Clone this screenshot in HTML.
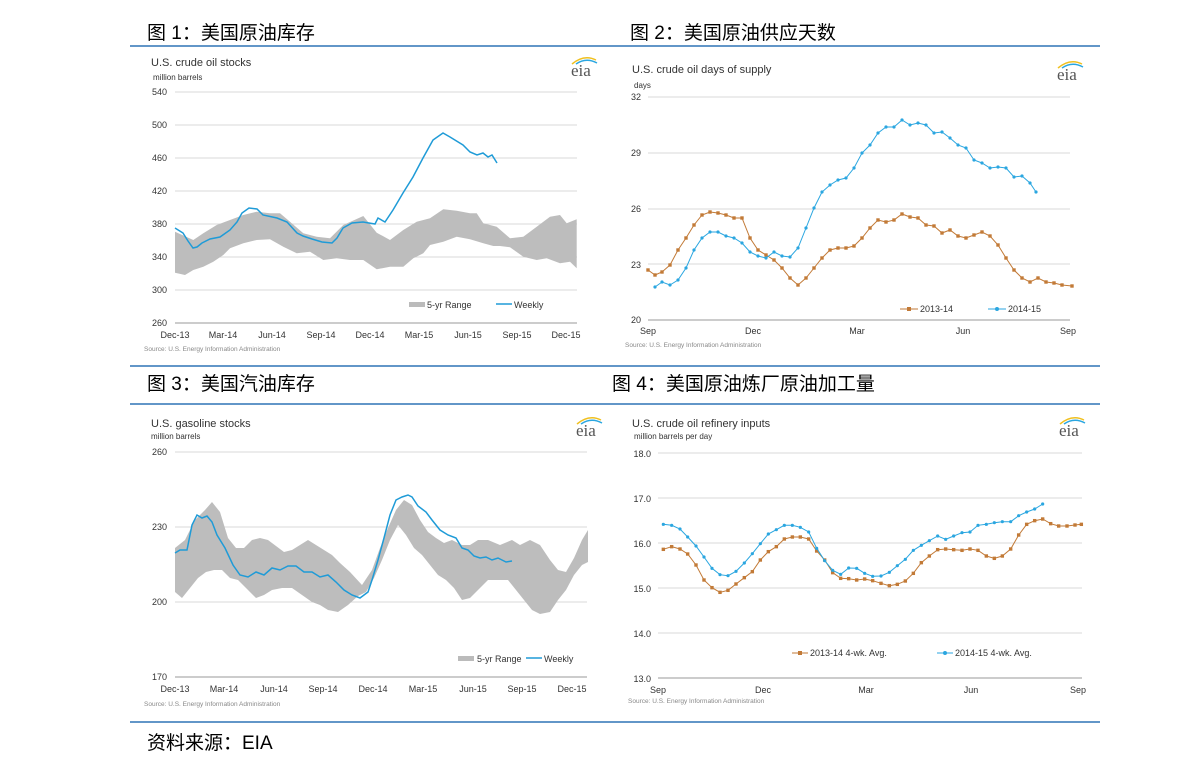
<!DOCTYPE html>
<html><head><meta charset="utf-8"><style>
body{margin:0;background:#fff;width:1191px;height:770px;overflow:hidden}
svg{display:block}
.t{font-family:"Liberation Sans",sans-serif;fill:#333}
.cn{font-family:"Liberation Sans","Noto Sans CJK SC",sans-serif;font-size:19px;fill:#000}
.ax{font-family:"Liberation Sans",sans-serif;font-size:9px;fill:#333}
.src{font-family:"Liberation Sans",sans-serif;font-size:6.5px;fill:#888}
.g{stroke:#d8d8d8;stroke-width:1}
.eia{font-family:"Liberation Serif",serif;font-size:17px;fill:#555}
</style></head><body>
<svg id="s" width="1191" height="770" xmlns="http://www.w3.org/2000/svg">
<text class="cn" x="147" y="39">图 1：美国原油库存</text>
<text class="cn" x="630" y="39">图 2：美国原油供应天数</text>
<line x1="130" y1="46" x2="1100" y2="46" stroke="#2e74b5" stroke-width="1.5"/>
<line x1="130" y1="366" x2="1100" y2="366" stroke="#2e74b5" stroke-width="1.5"/>
<text class="cn" x="147" y="390">图 3：美国汽油库存</text>
<text class="cn" x="612" y="390">图 4：美国原油炼厂原油加工量</text>
<line x1="130" y1="404" x2="1100" y2="404" stroke="#2e74b5" stroke-width="1.5"/>
<line x1="130" y1="722" x2="1100" y2="722" stroke="#2e74b5" stroke-width="1.5"/>
<text class="cn" x="147" y="749">资料来源：EIA</text>

<!-- chart 1 -->
<text class="t" x="151" y="66" font-size="11">U.S. crude oil stocks</text>
<text class="t" x="153" y="80" font-size="8">million barrels</text>
<g class="ax" text-anchor="end">
<text x="167" y="95">540</text><text x="167" y="128">500</text><text x="167" y="161">460</text><text x="167" y="194">420</text><text x="167" y="227">380</text><text x="167" y="260">340</text><text x="167" y="293">300</text><text x="167" y="326">260</text></g>
<g class="g"><line x1="175" y1="92" x2="577" y2="92"/><line x1="175" y1="125" x2="577" y2="125"/><line x1="175" y1="158" x2="577" y2="158"/><line x1="175" y1="191" x2="577" y2="191"/><line x1="175" y1="224" x2="577" y2="224"/><line x1="175" y1="257" x2="577" y2="257"/><line x1="175" y1="290" x2="577" y2="290"/></g>
<line x1="175" y1="323" x2="577" y2="323" stroke="#999"/>
<g class="ax" text-anchor="middle">
<text x="175" y="338">Dec-13</text><text x="223" y="338">Mar-14</text><text x="272" y="338">Jun-14</text><text x="321" y="338">Sep-14</text><text x="370" y="338">Dec-14</text><text x="419" y="338">Mar-15</text><text x="468" y="338">Jun-15</text><text x="517" y="338">Sep-15</text><text x="566" y="338">Dec-15</text></g>
<text class="src" x="144" y="351">Source: U.S. Energy Information Administration</text>
<rect x="409" y="302" width="16" height="5" fill="#bbb"/><text class="ax" x="427" y="308" font-size="8">5-yr Range</text>
<line x1="496" y1="304" x2="512" y2="304" stroke="#1f9bd7" stroke-width="1.5"/><text class="ax" x="514" y="308" font-size="8">Weekly</text>
<g id="c1"></g>

<!-- chart 2 -->
<text class="t" x="632" y="73" font-size="11">U.S. crude oil days of supply</text>
<text class="t" x="634" y="88" font-size="8">days</text>
<g class="ax" text-anchor="end"><text x="641" y="100">32</text><text x="641" y="156">29</text><text x="641" y="212">26</text><text x="641" y="268">23</text><text x="641" y="323">20</text></g>
<g class="g"><line x1="648" y1="97" x2="1070" y2="97"/><line x1="648" y1="153" x2="1070" y2="153"/><line x1="648" y1="209" x2="1070" y2="209"/><line x1="648" y1="264" x2="1070" y2="264"/></g>
<line x1="648" y1="320" x2="1070" y2="320" stroke="#999"/>
<g class="ax" text-anchor="middle"><text x="648" y="334">Sep</text><text x="753" y="334">Dec</text><text x="857" y="334">Mar</text><text x="963" y="334">Jun</text><text x="1068" y="334">Sep</text></g>
<text class="src" x="625" y="347">Source: U.S. Energy Information Administration</text>
<line x1="900" y1="309" x2="918" y2="309" stroke="#c27a37"/><rect x="907" y="307" width="4" height="4" fill="#c27a37"/><text class="ax" x="920" y="312" font-size="8">2013-14</text>
<line x1="988" y1="309" x2="1006" y2="309" stroke="#2aa6e0"/><circle cx="997" cy="309" r="2" fill="#2aa6e0"/><text class="ax" x="1008" y="312" font-size="8">2014-15</text>
<g id="c2"></g>

<!-- chart 3 -->
<text class="t" x="151" y="427" font-size="11">U.S. gasoline stocks</text>
<text class="t" x="151" y="439" font-size="8">million barrels</text>
<g class="ax" text-anchor="end"><text x="167" y="455">260</text><text x="167" y="530">230</text><text x="167" y="605">200</text><text x="167" y="680">170</text></g>
<g class="g"><line x1="175" y1="452" x2="587" y2="452"/><line x1="175" y1="527" x2="587" y2="527"/><line x1="175" y1="602" x2="587" y2="602"/></g>
<line x1="175" y1="677" x2="587" y2="677" stroke="#999"/>
<g class="ax" text-anchor="middle"><text x="175" y="692">Dec-13</text><text x="224" y="692">Mar-14</text><text x="274" y="692">Jun-14</text><text x="323" y="692">Sep-14</text><text x="373" y="692">Dec-14</text><text x="423" y="692">Mar-15</text><text x="473" y="692">Jun-15</text><text x="522" y="692">Sep-15</text><text x="572" y="692">Dec-15</text></g>
<text class="src" x="144" y="706">Source: U.S. Energy Information Administration</text>
<rect x="458" y="656" width="16" height="5" fill="#bbb"/><text class="ax" x="477" y="662" font-size="8">5-yr Range</text>
<line x1="526" y1="658" x2="542" y2="658" stroke="#1f9bd7" stroke-width="1.5"/><text class="ax" x="544" y="662" font-size="8">Weekly</text>
<g id="c3"></g>

<!-- chart 4 -->
<text class="t" x="632" y="427" font-size="11">U.S. crude oil refinery  inputs</text>
<text class="t" x="634" y="439" font-size="8">million barrels per day</text>
<g class="ax" text-anchor="end"><text x="651" y="457">18.0</text><text x="651" y="502">17.0</text><text x="651" y="547">16.0</text><text x="651" y="592">15.0</text><text x="651" y="637">14.0</text><text x="651" y="682">13.0</text></g>
<g class="g"><line x1="658" y1="453" x2="1082" y2="453"/><line x1="658" y1="498" x2="1082" y2="498"/><line x1="658" y1="543" x2="1082" y2="543"/><line x1="658" y1="588" x2="1082" y2="588"/><line x1="658" y1="633" x2="1082" y2="633"/></g>
<line x1="658" y1="678" x2="1082" y2="678" stroke="#999"/>
<g class="ax" text-anchor="middle"><text x="658" y="693">Sep</text><text x="763" y="693">Dec</text><text x="866" y="693">Mar</text><text x="971" y="693">Jun</text><text x="1078" y="693">Sep</text></g>
<text class="src" x="628" y="703">Source: U.S. Energy Information Administration</text>
<line x1="792" y1="653" x2="808" y2="653" stroke="#c27a37"/><rect x="798" y="651" width="4" height="4" fill="#c27a37"/><text class="ax" x="810" y="656" font-size="8">2013-14  4-wk. Avg.</text>
<line x1="937" y1="653" x2="953" y2="653" stroke="#2aa6e0"/><circle cx="945" cy="653" r="2" fill="#2aa6e0"/><text class="ax" x="955" y="656" font-size="8">2014-15  4-wk. Avg.</text>
<g id="c4"></g>

<g><text class="eia" x="571" y="76">eia</text><path d="M572 64 Q584 54 596 60" stroke="#f0c020" stroke-width="1.5" fill="none"/><path d="M576 64 Q586 57 597 63" stroke="#2aa6e0" stroke-width="1.5" fill="none"/></g>
<g><text class="eia" x="1057" y="80">eia</text><path d="M1058 68 Q1070 58 1082 64" stroke="#f0c020" stroke-width="1.5" fill="none"/><path d="M1062 68 Q1072 61 1083 67" stroke="#2aa6e0" stroke-width="1.5" fill="none"/></g>
<g><text class="eia" x="576" y="436">eia</text><path d="M577 424 Q589 414 601 420" stroke="#f0c020" stroke-width="1.5" fill="none"/><path d="M581 424 Q591 417 602 423" stroke="#2aa6e0" stroke-width="1.5" fill="none"/></g>
<g><text class="eia" x="1059" y="436">eia</text><path d="M1060 424 Q1072 414 1084 420" stroke="#f0c020" stroke-width="1.5" fill="none"/><path d="M1064 424 Q1074 417 1085 423" stroke="#2aa6e0" stroke-width="1.5" fill="none"/></g>
</svg>
<script>
function P(a){return a.map(p=>p[0].toFixed(1)+','+p[1].toFixed(1)).join(' ');}
function Z(a,ox,oy){return a.map(p=>[p[0]/3+ox,p[1]/3+oy]);}
function band(u,l,id){document.getElementById(id).innerHTML+='<polygon points="'+P(u.concat(l.slice().reverse()))+'" fill="#bdbdbd"/>';}
function line(a,c,id,w,m){let s='<polyline points="'+P(a)+'" fill="none" stroke="'+c+'" stroke-width="'+w+'"/>';
 if(m==='s')a.forEach(p=>s+='<rect x="'+(p[0]-1.7)+'" y="'+(p[1]-1.7)+'" width="3.4" height="3.4" fill="'+c+'"/>');
 if(m==='c')a.forEach(p=>s+='<circle cx="'+p[0]+'" cy="'+p[1]+'" r="1.6" fill="'+c+'"/>');
 document.getElementById(id).innerHTML+=s;}
// chart1
let u1=Z([[135,575],[190,600],[220,580],[260,555],[300,540],[340,525],[380,515],[420,520],[450,520],[480,545],[520,580],[560,590],[600,595],[640,555],[700,528],[740,578],[780,600],[820,570],[860,545],[900,535],[940,508],[980,512],[1020,520],[1040,520],[1060,550],[1100,560],[1140,595],[1180,590],[1220,560],[1260,530],[1290,525],[1310,550],[1340,538]],130,40);
let l1=Z([[135,698],[165,705],[190,690],[220,680],[250,665],[280,645],[300,625],[340,610],[380,600],[420,598],[460,620],[500,640],[540,635],[580,660],[620,655],[660,660],[700,660],[740,688],[780,680],[820,680],[850,655],[880,640],[900,615],[940,605],[980,590],[1020,598],[1060,610],[1090,618],[1110,618],[1140,622],[1180,650],[1220,660],[1250,655],[1290,670],[1320,665],[1340,685]],130,40);
band(u1,l1,'c1');
line([[175,228],[183,233],[188,241],[193,248],[197,247],[202,243],[210,239],[220,237],[230,230],[237,222],[242,213],[249,208],[257,209],[263,215],[277,218],[287,222],[297,233],[303,236],[312,239],[322,242],[332,243],[337,238],[343,228],[352,223],[363,222],[375,224],[378,218],[385,222],[393,210],[403,193],[413,177],[423,158],[433,140],[443,133],[450,137],[463,145],[470,152],[477,155],[483,153],[488,157],[492,155],[497,163]],'#1f9bd7','c1',1.5);
// chart2
line([[648,270],[655,275],[662,272],[670,265],[678,250],[686,238],[694,225],[702,215],[710,212],[718,213],[726,215],[734,218],[742,218],[750,238],[758,250],[766,255],[774,260],[782,268],[790,278],[798,285],[806,278],[814,268],[822,258],[830,250],[838,248],[846,248],[854,246],[862,238],[870,228],[878,220],[886,222],[894,220],[902,214],[910,217],[918,218],[926,225],[934,226],[942,233],[950,230],[958,236],[966,238],[974,235],[982,232],[990,236],[998,245],[1006,258],[1014,270],[1022,278],[1030,282],[1038,278],[1046,282],[1054,283],[1062,285],[1072,286]],'#c27a37','c2',1,'s');
line([[655,287],[662,282],[670,285],[678,280],[686,268],[694,250],[702,238],[710,232],[718,232],[726,236],[734,238],[742,243],[750,252],[758,256],[766,258],[774,252],[782,256],[790,257],[798,248],[806,228],[814,208],[822,192],[830,185],[838,180],[846,178],[854,168],[862,153],[870,145],[878,133],[886,127],[894,127],[902,120],[910,125],[918,123],[926,125],[934,133],[942,132],[950,138],[958,145],[966,148],[974,160],[982,163],[990,168],[998,167],[1006,168],[1014,177],[1022,176],[1030,183],[1036,192]],'#2aa6e0','c2',1,'c');
// chart3
band([[175,548],[185,540],[195,520],[205,510],[212,502],[220,512],[228,538],[236,548],[244,548],[252,540],[260,538],[268,540],[276,546],[284,552],[292,550],[300,545],[308,540],[316,545],[324,550],[332,555],[340,563],[350,572],[362,585],[372,570],[380,548],[388,528],[396,510],[404,500],[412,505],[420,520],[428,532],[436,538],[444,543],[452,540],[462,545],[470,545],[478,540],[488,540],[500,545],[512,540],[520,545],[530,540],[540,545],[550,560],[558,570],[566,572],[574,558],[582,540],[588,530]],
[[175,592],[182,598],[190,588],[198,578],[206,572],[214,570],[222,570],[230,578],[238,580],[248,590],[256,598],[264,595],[272,590],[282,588],[292,588],[302,595],[312,602],[320,605],[328,610],[338,612],[348,605],[358,596],[366,592],[374,578],[382,560],[390,540],[398,525],[406,535],[414,548],[422,555],[430,565],[438,575],[446,580],[454,588],[462,600],[470,598],[478,590],[488,580],[498,580],[508,580],[516,590],[524,600],[532,610],[540,614],[550,612],[558,600],[566,590],[574,575],[582,565],[588,562]],'c3');
line([[175,553],[180,550],[187,550],[192,525],[197,515],[202,518],[207,516],[212,522],[217,535],[225,548],[233,565],[240,575],[248,577],[256,572],[264,575],[272,568],[280,570],[288,566],[296,566],[304,572],[312,572],[320,577],[328,575],[336,582],[344,590],[352,595],[360,598],[368,592],[372,580],[378,560],[384,538],[390,515],[396,500],[402,497],[408,495],[412,497],[418,506],[426,512],[432,520],[440,530],[448,535],[456,538],[462,548],[468,550],[474,556],[480,558],[486,557],[492,560],[498,558],[506,562],[512,561]],'#1f9bd7','c3',1.5);
// chart4
line(Z([[160,448],[185,440],[210,447],[233,462],[258,495],[282,540],[306,563],[330,577],[354,571],[378,552],[403,533],[427,515],[451,480],[475,455],[499,440],[523,417],[547,411],[571,411],[596,417],[620,453],[644,480],[668,518],[692,535],[716,536],[740,540],[764,537],[788,542],[813,550],[838,557],[862,553],[886,543],[910,520],[934,488],[958,468],[983,449],[1007,447],[1031,449],[1056,451],[1080,447],[1104,451],[1129,468],[1153,475],[1177,468],[1202,447],[1226,405],[1250,373],[1274,362],[1298,357],[1322,371],[1346,378],[1371,378],[1395,375],[1414,373]],610,400),'#c27a37','c4',1,'s');
line(Z([[160,373],[185,376],[210,387],[233,411],[258,438],[282,471],[306,505],[330,524],[354,527],[378,514],[403,489],[427,461],[451,431],[475,402],[499,389],[523,376],[547,376],[571,382],[596,396],[620,445],[644,482],[668,511],[692,523],[716,504],[740,505],[764,520],[788,529],[813,528],[838,517],[862,497],[886,478],[910,451],[934,436],[958,422],[983,408],[1007,418],[1031,408],[1056,398],[1080,396],[1104,376],[1129,373],[1153,368],[1177,365],[1202,365],[1226,347],[1250,336],[1274,327],[1298,312]],610,400),'#2aa6e0','c4',1,'c');
</script>
</body></html>
